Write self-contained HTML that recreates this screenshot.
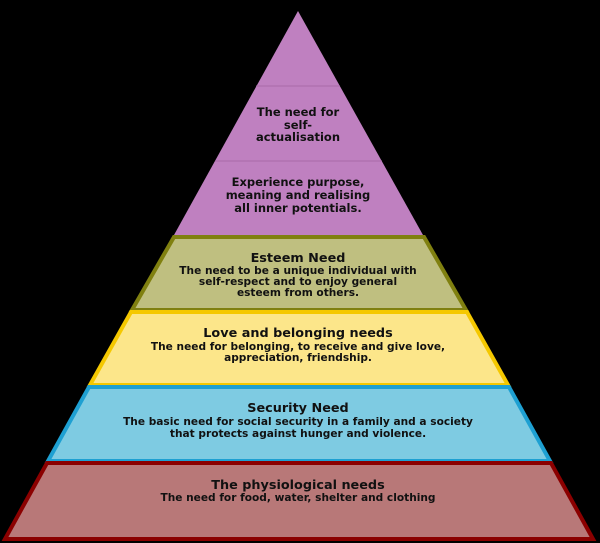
<!DOCTYPE html>
<html><head><style>html,body{margin:0;padding:0;background:#000;}svg{display:block}</style></head>
<body>
<svg width="600" height="543" viewBox="0 0 600 543" xmlns="http://www.w3.org/2000/svg" font-family="DejaVu Sans, Liberation Sans, sans-serif" font-weight="bold" text-anchor="middle" fill="#111">
<rect width="600" height="543" fill="#000"/>
<polygon points="298,11 423,235 174,235" fill="#bf80c0"/>
<line x1="256" y1="86" x2="340" y2="86" stroke="#a86aa8" stroke-width="1"/>
<line x1="215" y1="161" x2="382" y2="161" stroke="#a86aa8" stroke-width="1"/>
<polygon points="174,237 424,237 466,310 132,310" fill="#bfbf80" stroke="#808010" stroke-width="4"/>
<polygon points="131,312 467,312 508,385 90,385" fill="#fce68a" stroke="#f5c800" stroke-width="4"/>
<polygon points="89,387 509,387 550,461 48,461" fill="#7ecbe2" stroke="#1ea0d2" stroke-width="4"/>
<polygon points="47,463 551,463 593,539 5,539" fill="#b87878" stroke="#8b0000" stroke-width="4"/>
<g font-size="11.5">
<text x="298" y="116">The need for</text>
<text x="298" y="129">self-</text>
<text x="298" y="141">actualisation</text>
<text x="298" y="186">Experience purpose,</text>
<text x="298" y="199">meaning and realising</text>
<text x="298" y="212">all inner potentials.</text>
</g>
<g font-size="12.8">
<text x="298" y="262">Esteem Need</text>
<text x="298" y="337">Love and belonging needs</text>
<text x="298" y="412">Security Need</text>
<text x="298" y="489">The physiological needs</text>
</g>
<g font-size="10.6">
<text x="298" y="274">The need to be a unique individual with</text>
<text x="298" y="285">self-respect and to enjoy general</text>
<text x="298" y="296">esteem from others.</text>
<text x="298" y="350">The need for belonging, to receive and give love,</text>
<text x="298" y="361">appreciation, friendship.</text>
<text x="298" y="425">The basic need for social security in a family and a society</text>
<text x="298" y="437">that protects against hunger and violence.</text>
<text x="298" y="501">The need for food, water, shelter and clothing</text>
</g>
</svg>
</body></html>
